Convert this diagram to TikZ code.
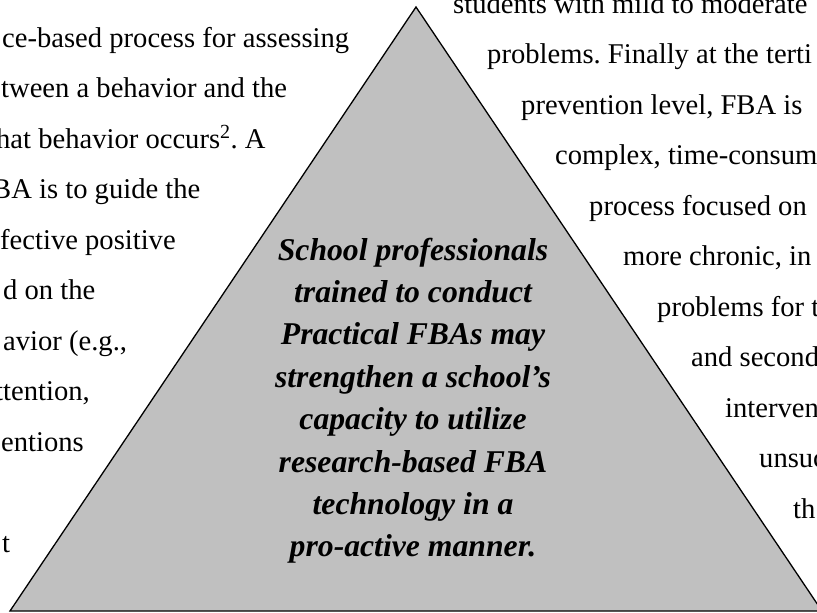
\documentclass[tikz,border=0pt]{standalone}
\usepackage{fontspec}
\setmainfont{Liberation Serif}
\definecolor{pyrgray}{RGB}{192,192,192}
\frenchspacing
\begin{document}
\begin{tikzpicture}[x=1pt,y=-1pt,
  bodytext/.style={inner sep=0pt, anchor=base west, font=\fontsize{28.6}{34}\selectfont},
  calltext/.style={inner sep=0pt, anchor=base, font=\fontsize{31.7}{38}\selectfont\bfseries\itshape},
  pyramid/.style={draw=black, line width=1.3pt, fill=pyrgray, line join=miter}]
\useasboundingbox (0,0) rectangle (817,613);
\clip (0,0) rectangle (817,613);
\fill[white] (0,0) rectangle (817,613);

% the pyramid
\coordinate (apex) at (416,7);
\coordinate (baseL) at (10,611);
\coordinate (baseR) at (822,611);
\draw[pyramid] (apex) -- (baseL) -- (baseR) -- cycle;

% text inside the pyramid
\node[calltext] (c1) at (413,260.0) {School professionals};
\node[calltext] (c2) at (413,302.4) {trained to conduct};
\node[calltext] (c3) at (413,344.8) {Practical FBAs may};
\node[calltext] (c4) at (413,387.2) {strengthen a school’s};
\node[calltext] (c5) at (413,429.6) {capacity to utilize};
\node[calltext] (c6) at (413,472.0) {research-based FBA};
\node[calltext] (c7) at (413,514.4) {technology in a};
\node[calltext] (c8) at (413,556.8) {pro-active manner.};

% left column, wrapped against the pyramid
\node[bodytext] (l1) at (2,47.0) {ce-based process for assessing};
\node[bodytext] (l2) at (1,97.5) {tween a behavior and the};
\node[bodytext] (l3) at (-4,148.0) {hat behavior occurs\textsuperscript{2}. A};
\node[bodytext] (l4) at (-8,198.5) {BA is to guide the};
\node[bodytext] (l5) at (0,249.0) {fective positive};
\node[bodytext] (l6) at (3,299.5) {d on the};
\node[bodytext] (l7) at (3,350.0) {avior (e.g.,};
\node[bodytext] (l8) at (-5,400.5) {ttention,};
\node[bodytext] (l9) at (1,451.0) {entions};
\node[bodytext] (l10) at (2,552.0) {t};

% right column, wrapped against the pyramid
\node[bodytext] (r1) at (453,13.0) {students with mild to moderate};
\node[bodytext] (r2) at (487,63.5) {problems. Finally at the terti};
\node[bodytext] (r3) at (521,114.0) {prevention level, FBA is};
\node[bodytext] (r4) at (555,164.5) {complex, time-consum};
\node[bodytext] (r5) at (589,215.0) {process focused on};
\node[bodytext] (r6) at (623,265.5) {more chronic, in};
\node[bodytext] (r7) at (657,316.0) {problems for t};
\node[bodytext] (r8) at (691,366.5) {and second};
\node[bodytext] (r9) at (725,417.0) {interven};
\node[bodytext] (r10) at (759,467.5) {unsuc};
\node[bodytext] (r11) at (793,518.0) {th};
\end{tikzpicture}
\end{document}
